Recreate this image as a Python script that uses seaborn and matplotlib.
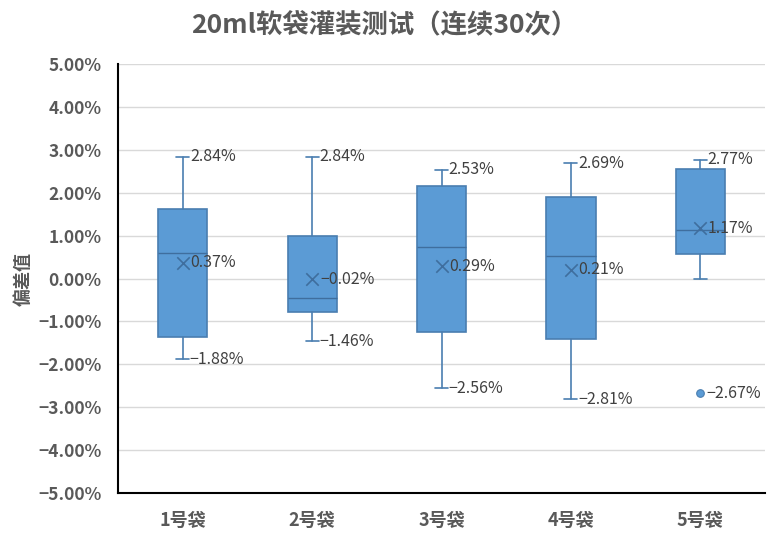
import matplotlib
matplotlib.use("Agg")
import matplotlib.pyplot as plt
import seaborn as sns
import pandas as pd
from matplotlib.ticker import FuncFormatter, MultipleLocator

categories = ["1号袋", "2号袋", "3号袋", "4号袋", "5号袋"]
whisker_low = [-1.88, -1.46, -2.56, -2.81, -0.01]
q1 = [-1.36, -0.77, -1.24, -1.41, 0.57]
median = [0.59, -0.46, 0.73, 0.52, 1.13]
q3 = [1.62, 0.99, 2.16, 1.89, 2.55]
whisker_high = [2.84, 2.84, 2.53, 2.69, 2.77]
mean = [0.37, -0.02, 0.29, 0.21, 1.17]
outlier_cat = ["5号袋"]
outlier_val = [-2.67]
low_labels = [-1.88, -1.46, -2.56, -2.81, None]

sns.set_theme(style="white")
plt.rcParams['font.family'] = ['Noto Sans CJK SC', 'DejaVu Sans']

fig = plt.figure(figsize=(7.77, 5.37), dpi=100)
ax = fig.add_axes([0.1519, 0.0819, 0.8327, 0.7989])

fill = "#5B9BD5"
edge = "#4A7EB0"
text_gray = "#595959"
label_gray = "#404040"

stats = []
for i, c in enumerate(categories):
    stats.append(dict(label=c, whislo=whisker_low[i], q1=q1[i], med=median[i],
                      q3=q3[i], whishi=whisker_high[i], fliers=[]))

ax.bxp(stats, positions=range(len(categories)), widths=0.38, patch_artist=True,
       showfliers=False, capwidths=0.1,
       boxprops=dict(facecolor=fill, edgecolor=edge, linewidth=1.2),
       medianprops=dict(color="#3F6E9E", linewidth=1.0),
       whiskerprops=dict(color=edge, linewidth=1.2),
       capprops=dict(color=edge, linewidth=1.2), zorder=3)

pos = {c: i for i, c in enumerate(categories)}
mdf = pd.DataFrame({"x": range(len(categories)), "y": mean})
sns.scatterplot(data=mdf, x="x", y="y", marker="x", s=80, color="#3F6E9E",
                linewidth=1.2, ax=ax, zorder=4, legend=False)
odf = pd.DataFrame({"x": [pos[c] for c in outlier_cat], "y": outlier_val})
sns.scatterplot(data=odf, x="x", y="y", marker="o", s=30, color=fill,
                edgecolor=edge, linewidth=0.8, ax=ax, zorder=4, legend=False)

fs = 11.5
def fmt(v):
    return f"{v:.2f}%".replace("-", "−")

for i in range(len(categories)):
    ax.text(i + 0.055, whisker_high[i], fmt(whisker_high[i]), va="center",
            ha="left", fontsize=fs, color=label_gray, zorder=5)
    if low_labels[i] is not None:
        ax.text(i + 0.055, whisker_low[i], fmt(low_labels[i]),
                va="center", ha="left", fontsize=fs, color=label_gray, zorder=5)
    ax.text(i + 0.06, mean[i], fmt(mean[i]), va="center",
            ha="left", fontsize=fs, color=label_gray, zorder=5)
for c, v in zip(outlier_cat, outlier_val):
    ax.text(pos[c] + 0.05, v, fmt(v), va="center", ha="left",
            fontsize=fs, color=label_gray, zorder=5)

ax.set_xlim(-0.5, len(categories) - 0.5)
ax.set_ylim(-5, 5)
ax.yaxis.set_major_locator(MultipleLocator(1))
ax.yaxis.set_major_formatter(FuncFormatter(lambda v, p: fmt(v)))
ax.set_xticks(range(len(categories)))
ax.set_xticklabels(categories)
ax.grid(axis="y", color="#D9D9D9", linewidth=1.0, zorder=0)
ax.set_axisbelow(True)
for s in ["top", "right"]:
    ax.spines[s].set_visible(False)
for s in ["left", "bottom"]:
    ax.spines[s].set_visible(True)
    ax.spines[s].set_color("#000000")
    ax.spines[s].set_linewidth(1.5)
ax.tick_params(axis="both", length=0, colors=text_gray)
ax.tick_params(axis="x", pad=13, labelsize=13)
ax.tick_params(axis="y", pad=12, labelsize=12.5)
for t in ax.get_xticklabels() + ax.get_yticklabels():
    t.set_fontweight("bold")
    t.set_color(text_gray)

ax.set_ylabel("偏差值", fontsize=13, fontweight="bold", color=text_gray, labelpad=4)
ax.set_xlabel("")
fig.suptitle("20ml软袋灌装测试（连续30次）", x=0.494, y=0.978, fontsize=19,
             fontweight="bold", color=text_gray)

fig.savefig("out.png", dpi=100, facecolor="white")
